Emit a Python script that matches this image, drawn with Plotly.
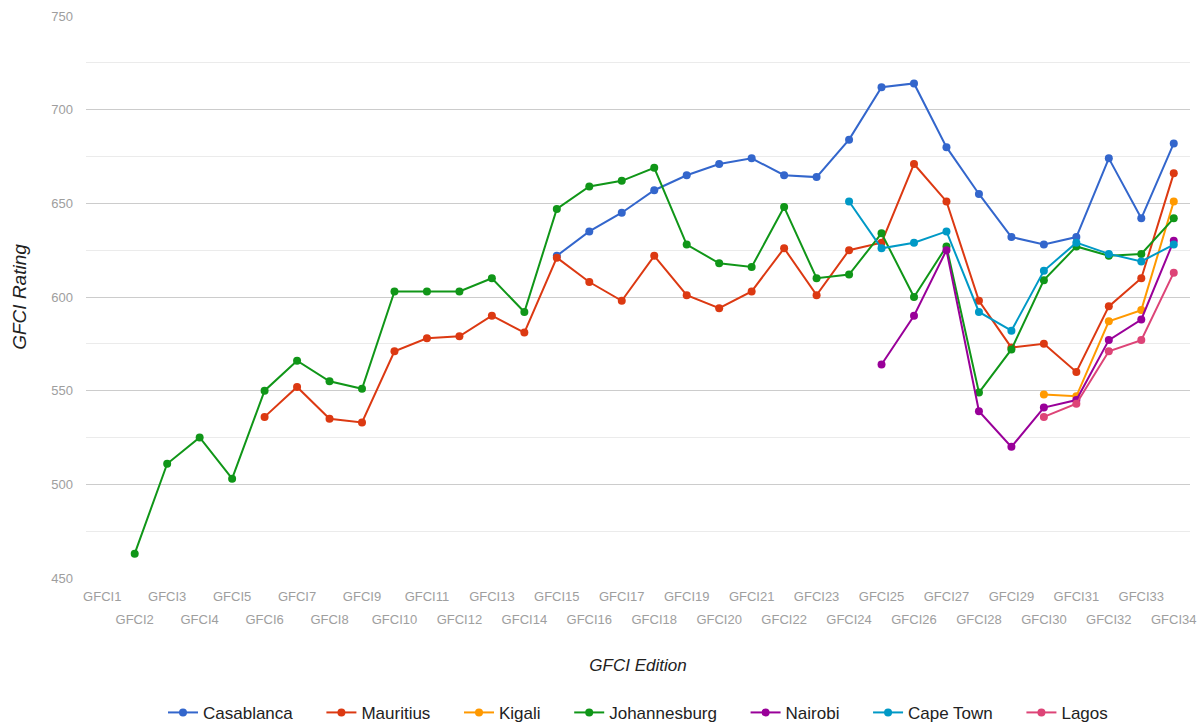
import plotly.graph_objects as go

editions = [f"GFCI{i}" for i in range(1, 35)]

N = None
casablanca = [N]*14 + [622, 635, 645, 657, 665, 671, 674, 665, 664, 684,
                       712, 714, 680, 655, 632, 628, 632, 674, 642, 682]
mauritius = [N]*5 + [536, 552, 535, 533, 571, 578, 579, 590, 581, 621,
                     608, 598, 622, 601, 594, 603, 626, 601, 625, 629,
                     671, 651, 598, 573, 575, 560, 595, 610, 666]
kigali = [N]*29 + [548, 547, 587, 593, 651]
johannesburg = [N] + [463, 511, 525, 503, 550, 566, 555, 551, 603, 603,
                      603, 610, 592, 647, 659, 662, 669, 628, 618, 616,
                      648, 610, 612, 634, 600, 627, 549, 572, 609, 627,
                      622, 623, 642]
nairobi = [N]*24 + [564, 590, 625, 539, 520, 541, 545, 577, 588, 630]
cape_town = [N]*23 + [651, 626, 629, 635, 592, 582, 614, 629, 623, 619, 628]
lagos = [N]*29 + [536, 543, 571, 577, 613]

series = [
    ("Casablanca", casablanca, "#3366cc"),
    ("Mauritius", mauritius, "#dc3912"),
    ("Kigali", kigali, "#ff9900"),
    ("Johannesburg", johannesburg, "#109618"),
    ("Nairobi", nairobi, "#990099"),
    ("Cape Town", cape_town, "#0099c6"),
    ("Lagos", lagos, "#dd4477"),
]

y_ticks = [450, 500, 550, 600, 650, 700, 750]
odd_labels = editions[0::2]
even_labels = editions[1::2]

PAD = "\u00a0" * 5

fig = go.Figure()
for i, (name, vals, color) in enumerate(series):
    fig.add_trace(go.Scatter(
        x=editions, y=vals, name=name + (PAD if i < len(series) - 1 else ""),
        mode="lines+markers",
        line=dict(color=color, width=2),
        marker=dict(color=color, size=8),
        connectgaps=False,
    ))

tick_font = dict(family="Liberation Sans, Arial, sans-serif", size=13, color="#9e9e9e")
title_font = dict(family="Liberation Sans, Arial, sans-serif", size=17, color="#222222")

common_x = dict(type="category", categoryorder="array", categoryarray=editions,
                range=[-0.5, 33.5], showgrid=False, zeroline=False, showline=False,
                ticks="", tickfont=tick_font, tickangle=0, automargin=False)

fig.update_layout(
    width=1201, height=726,
    margin=dict(l=86, r=11, t=16, b=148, autoexpand=False),
    paper_bgcolor="white", plot_bgcolor="white",
    font=dict(family="Liberation Sans, Arial, sans-serif"),
    xaxis=dict(**common_x, tickmode="array", tickvals=even_labels, ticktext=even_labels,
               ticklabelstandoff=32,
               title=dict(text="<i>GFCI Edition</i>", font=title_font, standoff=33)),
    xaxis2=dict(**common_x, overlaying="x", side="bottom", anchor="y",
                tickmode="array", tickvals=odd_labels, ticktext=odd_labels,
                ticklabelstandoff=9),
    yaxis=dict(range=[450, 750], tickmode="array", tickvals=y_ticks,
               showgrid=True, gridcolor="#cccccc", gridwidth=1,
               minor=dict(dtick=25, tick0=450, showgrid=True, gridcolor="#ebebeb", gridwidth=1),
               zeroline=False, showline=False, ticks="", tickfont=tick_font,
               ticklabelstandoff=12, automargin=False,
               title=dict(text="<i>GFCI Rating</i>",
                          font=dict(family="Liberation Sans, Arial, sans-serif", size=19, color="#222222"),
                          standoff=19)),
    legend=dict(orientation="h", x=0.5, xanchor="center", y=-0.240, yanchor="middle",
                font=dict(family="Liberation Sans, Arial, sans-serif", size=17, color="#222222"),
                itemwidth=30),
    showlegend=True,
)

# invisible helper trace so the overlaid axis carrying odd labels is active
fig.add_trace(go.Scatter(x=editions, y=[None]*len(editions), xaxis="x2", yaxis="y",
                         showlegend=False, hoverinfo="skip", mode="lines"))

fig.write_html("out.html")
